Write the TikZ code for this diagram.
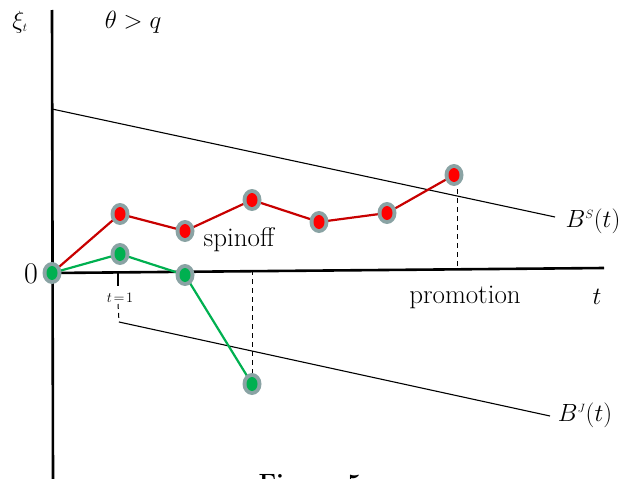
\documentclass[tikz,border=0pt]{standalone}
\usepackage{amsmath}
\begin{document}
\begin{tikzpicture}[x=1pt,y=-1pt,
  axis/.style={line width=2.6pt},
  bline/.style={line width=1.1pt},
  redpath/.style={draw={rgb,255:red,200;green,0;blue,0}, line width=2.2pt},
  greenpath/.style={draw={rgb,255:red,0;green,176;blue,80}, line width=2.2pt},
  dashline/.style={line width=1pt, dash pattern=on 5pt off 4pt},
  lbl/.style={inner sep=0pt, font=\fontsize{25}{28}\selectfont},
]
\definecolor{ptred}{RGB}{255,0,0}
\definecolor{ptgreen}{RGB}{0,176,80}
\definecolor{ptgray}{RGB}{138,163,164}
\useasboundingbox (0,0) rectangle (621,479);
\tikzset{
  rpt/.pic={\fill[ptgray] (0,0) ellipse (9.5pt and 11pt); \fill[ptred] (0,0) ellipse (5.5pt and 7pt);},
  gpt/.pic={\fill[ptgray] (0,0) ellipse (9.5pt and 11pt); \fill[ptgreen] (0,0) ellipse (5.5pt and 7pt);}
}
% axes
\coordinate (ytop) at (52,10);
\coordinate (ybot) at (53,479);
\coordinate (o) at (52,273);
\coordinate (xend) at (604,268);
\draw[axis] (ybot) -- (ytop);
\draw[axis] (o) -- (xend);
% tick t=1
\coordinate (t1a) at (118,271);
\coordinate (t1b) at (118,286);
\draw[line width=2.8pt] (t1a) -- (t1b);
\node[inner sep=0pt, font=\fontsize{14}{15}\selectfont] (t1) at (120,298) {$t\!=\!1$};
% boundaries
\coordinate (bs0) at (52,109);
\coordinate (bs1) at (555,217);
\draw[bline] (bs0) -- (bs1);
\coordinate (bj0) at (119,322);
\coordinate (bj1) at (550,416);
\draw[bline] (bj0) -- (bj1);
\coordinate (bjd) at (118,304);
\draw[dashline] (bjd) -- (bj0);
% points
\coordinate (p0) at (52,273);
\coordinate (r1) at (120,214);
\coordinate (r2) at (185,231);
\coordinate (r3) at (252,200);
\coordinate (r4) at (319,222);
\coordinate (r5) at (387,213);
\coordinate (r6) at (454,175);
\coordinate (g1) at (120,254);
\coordinate (g2) at (185,275);
\coordinate (g3) at (252,384);
% dashed verticals
\coordinate (d1a) at (252,270);
\draw[dashline] (d1a) -- (g3);
\coordinate (d2t) at (457,180);
\coordinate (d2a) at (457,266);
\draw[dashline] (d2t) -- (d2a);
% paths
\draw[redpath] (p0) -- (r1) -- (r2) -- (r3) -- (r4) -- (r5) -- (r6);
\draw[greenpath] (p0) -- (g1) -- (g2) -- (g3);
\foreach \p in {r1,r2,r3,r4,r5,r6} \pic at (\p) {rpt};
\foreach \p in {p0,g1,g2,g3} \pic at (\p) {gpt};
% labels
\node[inner sep=0pt, font=\fontsize{30}{32}\selectfont] (zero) at (31,274) {0};
\node[lbl] (xi) at (20,22) {$\xi_{\scriptscriptstyle t}$};
\node[lbl] (theta) at (133,22) {$\theta > q$};
\node[inner sep=0pt, font=\fontsize{32}{34}\selectfont] (tl) at (597,297) {$t$};
\node[inner sep=0pt, font=\fontsize{27}{30}\selectfont] (prom) at (465,297) {promotion};
\node[inner sep=0pt, font=\fontsize{27}{30}\selectfont] (spin) at (239,240) {spinoff};
\node[lbl] (bsl) at (593,221) {$B^{\scriptscriptstyle S}(t)$};
\node[lbl] (bjl) at (585,415) {$B^{\scriptscriptstyle J}(t)$};
\node[inner sep=0pt, font=\fontsize{25}{28}\selectfont\bfseries, anchor=north] (fig) at (310,474) {Figure 5};
\end{tikzpicture}
\end{document}
